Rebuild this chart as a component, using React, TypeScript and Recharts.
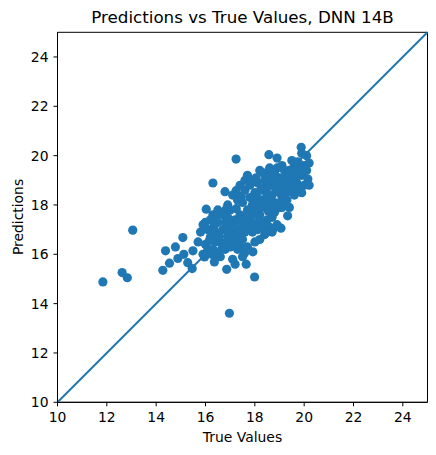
import React from "react";
import {
  ScatterChart,
  Scatter,
  XAxis,
  YAxis,
  ReferenceLine,
  ReferenceArea,
} from "recharts";

// True values (x) vs predictions (y)
const outliers: [number, number][] = [
  [11.84, 14.88], [12.62, 15.26], [12.83, 15.05], [13.05, 16.98],
  [14.27, 15.35], [14.38, 16.14], [14.54, 15.64], [14.78, 16.3],
  [14.88, 15.83], [15.08, 16.68], [15.12, 16.0], [15.28, 15.66],
  [15.46, 15.42], [15.49, 16.14], [15.96, 15.89], [16.36, 15.69],
  [16.86, 15.39], [16.97, 13.61], [17.99, 15.08], [17.58, 16.04],
  [17.92, 16.1], [17.65, 15.6], [17.24, 19.86], [16.3, 18.89],
  [16.79, 18.54], [17.24, 18.58], [16.03, 17.83], [18.57, 20.04],
  [19.88, 20.34], [20.15, 19.05], [19.33, 17.56], [19.06, 17.06],
  [18.73, 17.02],
];

const cloud: [number, number][] = [
  [15.7, 16.5], [15.8, 16.9], [15.9, 17.2], [16.0, 16.4], [16.1, 17.0],
  [16.2, 16.7], [15.9, 16.0], [16.1, 16.2], [16.2, 17.4], [16.0, 17.3],
  [16.3, 16.2], [16.4, 16.9], [16.5, 17.3], [16.6, 16.5], [16.7, 17.0],
  [16.3, 17.6], [16.5, 17.8], [16.8, 16.2], [16.6, 15.9], [16.4, 16.5],
  [16.7, 17.6], [16.8, 17.3], [16.5, 16.0], [16.9, 16.7],
  [17.0, 16.3], [17.1, 16.9], [17.2, 17.4], [17.0, 17.8], [17.3, 18.2],
  [17.4, 17.0], [17.1, 15.8], [17.2, 16.5], [16.9, 18.0], [17.3, 16.2],
  [17.4, 17.6], [17.0, 17.2], [17.1, 18.4], [17.4, 18.8], [17.2, 15.6],
  [17.3, 16.8], [16.9, 17.5],
  [17.5, 16.6], [17.6, 17.2], [17.7, 17.8], [17.8, 18.3], [17.6, 18.6],
  [17.9, 16.9], [17.5, 17.5], [17.8, 17.4], [17.9, 18.0], [17.6, 19.0],
  [17.7, 19.2], [18.0, 16.5], [17.5, 18.1], [17.7, 16.3], [17.9, 17.6],
  [17.8, 18.8], [18.0, 17.2], [17.6, 16.9], [18.0, 18.5], [17.5, 15.9],
  [18.1, 17.0], [18.2, 17.6], [18.3, 18.2], [18.4, 18.7], [18.1, 18.9],
  [18.5, 17.4], [18.2, 16.6], [18.6, 18.0], [18.4, 17.9], [18.3, 17.3],
  [18.5, 19.2], [18.6, 19.5], [18.1, 18.3], [18.2, 19.4], [18.4, 16.8],
  [18.6, 17.1], [18.3, 18.6], [18.5, 18.4], [18.2, 17.9], [18.0, 17.8],
  [18.6, 18.8], [18.4, 19.0],
  [18.7, 17.5], [18.8, 18.1], [18.9, 18.6], [19.0, 19.1], [18.7, 19.0],
  [19.1, 18.3], [18.8, 17.7], [19.0, 17.9], [19.2, 18.8], [18.9, 19.5],
  [19.1, 19.6], [18.7, 18.4], [19.0, 18.5], [18.8, 19.3], [19.2, 19.4],
  [18.9, 17.2], [19.1, 17.9], [18.7, 16.9], [19.2, 18.1], [18.8, 18.9],
  [19.3, 18.2], [19.4, 18.7], [19.5, 19.2], [19.6, 19.6], [19.3, 19.0],
  [19.7, 18.9], [19.4, 17.9], [19.6, 18.4], [19.8, 19.3], [19.5, 19.8],
  [19.3, 18.6], [19.7, 19.5], [19.4, 19.4], [19.8, 18.7],
  [19.9, 19.2], [20.0, 19.6], [20.1, 20.0], [19.9, 20.1], [20.2, 19.7],
  [20.0, 18.8], [20.2, 18.8], [19.9, 18.5], [20.1, 19.4],
  // extra fill for the dense core
  [16.15, 16.55], [16.35, 17.15], [16.55, 16.75], [16.75, 16.45],
  [16.95, 16.95], [17.15, 17.15], [17.35, 17.35], [17.05, 16.6],
  [17.25, 17.85], [17.45, 18.35], [17.55, 16.25], [17.75, 17.05],
  [17.85, 17.75], [17.95, 18.25], [18.05, 18.05], [18.15, 17.35],
  [18.25, 18.65], [18.35, 17.05], [18.45, 18.15], [18.55, 17.75],
  [18.65, 18.35], [18.75, 17.85], [18.85, 18.55], [18.95, 18.05],
  [19.05, 18.75], [19.15, 19.05], [19.25, 18.45], [19.35, 19.25],
  [19.45, 18.95], [19.55, 18.65], [19.65, 19.05], [19.75, 19.75],
  [18.05, 19.1], [17.85, 19.0], [18.35, 19.3], [17.35, 16.5],
  [16.85, 17.85], [16.65, 16.2], [16.45, 17.55], [18.9, 19.9],
  [19.15, 18.6], [18.5, 16.9], [17.65, 17.45], [16.25, 16.0],
];

const ticks = [10, 12, 14, 16, 18, 20, 22, 24];
const domain: [number, number] = [10, 25];

const points = [...outliers, ...cloud].map(([x, y]) => ({ x, y }));

const BLUE = "#1f77b4";
const FONT = "DejaVu Sans, sans-serif";

const Dot = (props: any) => (
  <circle cx={props.cx} cy={props.cy} r={4.6} fill={BLUE} />
);

export default function App() {
  const tick = { fill: "#000", fontSize: 13.9, fontFamily: FONT };
  return (
    <div style={{ position: "absolute", left: 0, top: 0, width: 436, height: 455, background: "#fff" }}>
      <ScatterChart
        width={436}
        height={455}
        margin={{ top: 32.3, right: 8.5, left: 0, bottom: 0 }}
      >
        <XAxis
          type="number"
          dataKey="x"
          domain={domain}
          ticks={ticks}
          allowDataOverflow
          height={52.7}
          tick={tick}
          tickSize={4}
          tickMargin={6}
          stroke="#000"
          tickLine={{ stroke: "#000" }}
        />
        <YAxis
          type="number"
          dataKey="y"
          domain={domain}
          ticks={ticks}
          allowDataOverflow
          width={57.5}
          tick={tick}
          tickSize={4}
          tickMargin={5}
          stroke="#000"
          tickLine={{ stroke: "#000" }}
        />
        <Scatter data={points} shape={Dot} isAnimationActive={false} />
        <ReferenceLine
          segment={[{ x: 10, y: 10 }, { x: 25, y: 25 }]}
          stroke={BLUE}
          strokeWidth={2}
        />
        <ReferenceArea x1={10} x2={25} y1={10} y2={25} fill="none" stroke="#000" strokeWidth={1} />
      </ScatterChart>
      <svg
        width={436}
        height={455}
        style={{ position: "absolute", left: 0, top: 0, pointerEvents: "none" }}
      >
        <text x={242.5} y={23} textAnchor="middle" fontSize={16.7} fontFamily={FONT} fill="#000">
          Predictions vs True Values, DNN 14B
        </text>
        <text x={242.5} y={442} textAnchor="middle" fontSize={13.9} fontFamily={FONT} fill="#000">
          True Values
        </text>
        <text
          x={23.3}
          y={217}
          textAnchor="middle"
          fontSize={13.9}
          fontFamily={FONT}
          fill="#000"
          transform="rotate(-90, 23.3, 217)"
        >
          Predictions
        </text>
      </svg>
    </div>
  );
}
